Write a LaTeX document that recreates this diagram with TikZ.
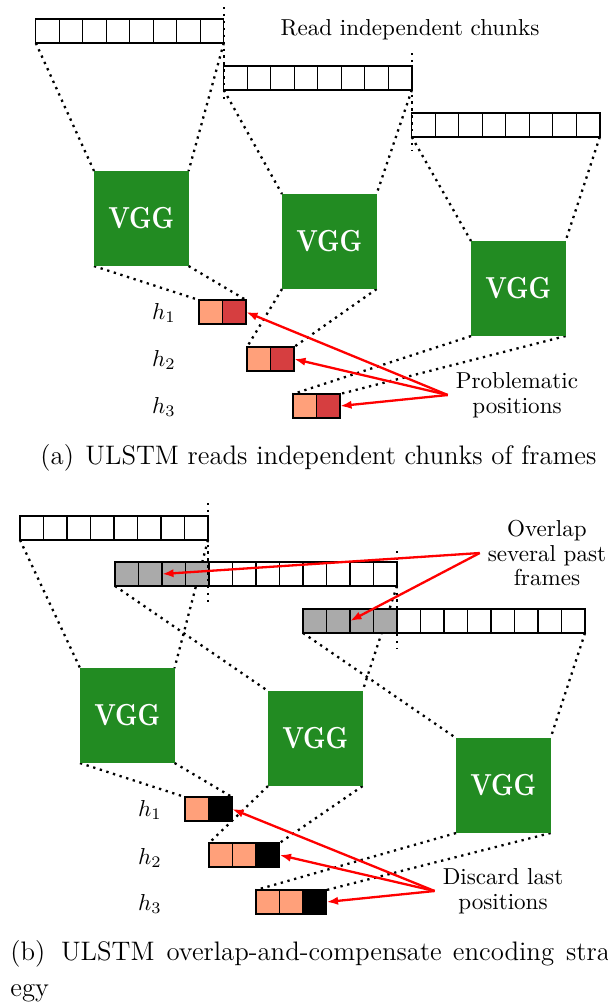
\documentclass[tikz,border=0pt]{standalone}
\usepackage{amsmath}
\usetikzlibrary{arrows.meta}

\definecolor{vggreen}{RGB}{34,139,34}
\definecolor{hsalmon}{RGB}{255,160,122}
\definecolor{hred}{RGB}{214,62,64}
\definecolor{pastgray}{RGB}{170,170,170}

\pgfdeclarelayer{background}
\pgfsetlayers{background,main}

\newcommand{\vggtxt}{\scalebox{1}[1.22]{VGG}}

\tikzset{
  frm/.style={draw, fill=white, line width=0.6pt, minimum width=10.19pt, minimum height=10.4pt,
    inner sep=0pt, outer sep=0pt, anchor=north west},
  pastfrm/.style={frm, fill=pastgray},
  vgg/.style={fill=vggreen, text=white, font=\bfseries\fontsize{10.8}{12}\selectfont,
    minimum width=41pt, minimum height=41.2pt, inner sep=0pt, outer sep=0pt, anchor=north west},
  hcell/.style={draw, line width=0.6pt, fill=#1, minimum width=10.19pt, minimum height=10.4pt,
    inner sep=0pt, outer sep=0pt, anchor=north west},
  link/.style={line width=1pt, dotted},
  pointer/.style={red, line width=1pt, -{Latex[length=5pt,width=3.6pt]}},
  note/.style={align=center, font=\fontsize{10}{10.7}\selectfont},
  capt/.style={anchor=west, inner sep=0pt, align=left, font=\fontsize{11.6}{15.6}\selectfont}
}

\begin{document}
\begin{tikzpicture}[x=0.4335pt, y=-0.4335pt]
\useasboundingbox (0,0) rectangle (608,1002);

% (a) independent chunks
\foreach \r/\x/\y in {1/35.8/19, 2/223.8/66, 3/411.8/113}
  \foreach \i in {0,...,7}
    \node[frm] (a\r f\i) at ({\x+23.5*\i},\y) {};

\node[vgg] (avgg1) at (94,171) {\vggtxt};
\node[vgg] (avgg2) at (282,194) {\vggtxt};
\node[vgg] (avgg3) at (471,241) {\vggtxt};

\foreach \r/\x/\y in {1/199/300, 2/247/347, 3/293/394} {
  \node[hcell=hsalmon] (ah\r a) at (\x,\y) {};
  \node[hcell=hred, anchor=west] (ah\r b) at (ah\r a.east) {};
}
\foreach \r/\y in {1/313, 2/360, 3/407}
  \node (ahl\r) at (164,\y) {$h_\r$};

\node (readtxt) at (410,30) {Read independent chunks};
\node[note] (probtxt) at (517,395) {Problematic\\positions};

\begin{pgfonlayer}{background}
\foreach \r in {1,2,3} {
  \draw[link] (a\r f0.south west) -- (avgg\r.north west);
  \draw[link] (a\r f7.south east) -- (avgg\r.north east);
  \draw[link] (avgg\r.south west) -- (ah\r a.north west);
  \draw[link] (avgg\r.south east) -- (ah\r b.north east);
}
\end{pgfonlayer}

% chunk borders
\draw[link] (a1f7.north east) ++(0,-12) -- ++(0,96);
\draw[link] (a2f7.north east) ++(0,-13) -- ++(0,97);

\foreach \r in {1,2,3}
  \draw[pointer] (probtxt.west) -- (ah\r b.east);

\node[capt] (capa) at (40,458) {(a)\hspace{5pt}ULSTM reads independent chunks of frames};

% (b) overlap and compensate
\foreach \i in {0,...,7}
  \node[frm] (b1f\i) at ({20+23.5*\i},516) {};
\foreach \r/\x/\y in {2/115/562, 3/303/609} {
  \foreach \i in {0,...,3}
    \node[pastfrm] (b\r f\i) at ({\x+23.5*\i},\y) {};
  \foreach \i in {4,...,11}
    \node[frm] (b\r f\i) at ({\x+23.5*\i},\y) {};
}

\node[vgg] (bvgg1) at (80,668) {\vggtxt};
\node[vgg] (bvgg2) at (268,691) {\vggtxt};
\node[vgg] (bvgg3) at (456,738) {\vggtxt};

\node[hcell=hsalmon] (bh1a) at (185,797) {};
\node[hcell=black, anchor=west] (bh1c) at (bh1a.east) {};
\foreach \r/\x/\y in {2/209/843, 3/256/890} {
  \node[hcell=hsalmon] (bh\r a) at (\x,\y) {};
  \node[hcell=hsalmon, anchor=west] (bh\r b) at (bh\r a.east) {};
  \node[hcell=black, anchor=west] (bh\r c) at (bh\r b.east) {};
}
\foreach \r/\y in {1/810, 2/858, 3/904}
  \node (bhl\r) at (150,\y) {$h_\r$};

\node[note] (ovltxt) at (547,553) {Overlap\\several past\\frames};
\node[note] (distxt) at (503,891) {Discard last\\positions};

\begin{pgfonlayer}{background}
\draw[link] (b1f0.south west) -- (bvgg1.north west);
\draw[link] (b1f7.south east) -- (bvgg1.north east);
\foreach \r in {2,3} {
  \draw[link] (b\r f0.south west) -- (bvgg\r.north west);
  \draw[link] (b\r f11.south east) -- (bvgg\r.north east);
}
\foreach \r in {1,2,3} {
  \draw[link] (bvgg\r.south west) -- (bh\r a.north west);
  \draw[link] (bvgg\r.south east) -- (bh\r c.north east);
}
\end{pgfonlayer}

% chunk borders
\draw[link] (b1f7.north east) ++(0,-13) -- ++(0,99);
\draw[link] (b2f11.north east) ++(0,-11) -- ++(0,97);

\draw[pointer] (ovltxt.west) -- (b2f2.west);
\draw[pointer] (ovltxt.west) -- (b3f2.west);
\foreach \r in {1,2,3}
  \draw[pointer] (distxt.west) -- (bh\r c.east);

\node[capt] (capb) at (10,971) {(b)\hspace{6.8pt}ULSTM\hspace{5.2pt}overlap-and-compensate\hspace{4.8pt}encoding\hspace{5.2pt}strat-\\egy};
\end{tikzpicture}
\end{document}
